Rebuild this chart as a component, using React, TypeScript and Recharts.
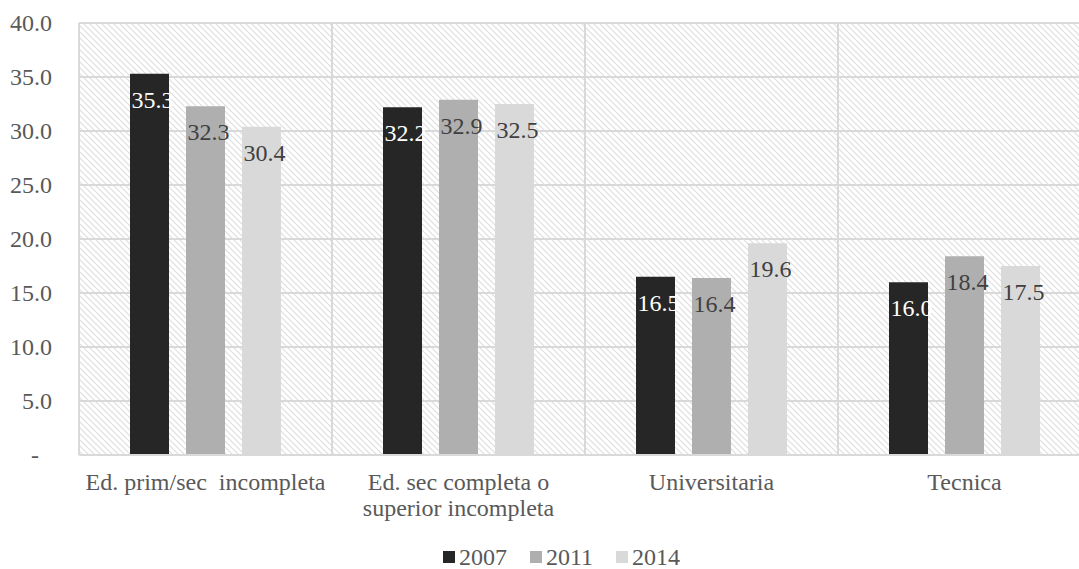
import React from 'react';
import { BarChart, Bar, XAxis, YAxis, CartesianGrid, LabelList } from 'recharts';

const categories = ['Ed. prim/sec  incompleta', 'Ed. sec completa o\nsuperior incompleta', 'Universitaria', 'Tecnica'];
const values2007 = [35.3, 32.2, 16.5, 16.0];
const values2011 = [32.3, 32.9, 16.4, 18.4];
const values2014 = [30.4, 32.5, 19.6, 17.5];
const yTicks = [0, 5, 10, 15, 20, 25, 30, 35, 40];

const series = [
  { key: 'y2007', name: '2007', color: '#262626', labelColor: '#ffffff' },
  { key: 'y2011', name: '2011', color: '#afafaf', labelColor: '#404040' },
  { key: 'y2014', name: '2014', color: '#d9d9d9', labelColor: '#404040' },
];

const data = categories.map((c, i) => ({
  name: c,
  y2007: values2007[i],
  y2011: values2011[i],
  y2014: values2014[i],
}));

const FONT = '"Liberation Serif", "Times New Roman", serif';
const textStyle = { fontFamily: FONT, fontSize: 24 };

const YTick = (props: any) => {
  const { x, y, payload } = props;
  const v = payload.value;
  if (v === 0) {
    return (
      <text x={x - 13} y={y} dy="0.35em" textAnchor="end" fill="#595959" style={textStyle}>
        -
      </text>
    );
  }
  return (
    <text x={x} y={y} dy="0.35em" textAnchor="end" fill="#595959" style={textStyle}>
      {v.toFixed(1)}
    </text>
  );
};

const XTick = (props: any) => {
  const { x, y, payload } = props;
  const lines = String(payload.value).split('\n');
  return (
    <text x={x} y={y} textAnchor="middle" fill="#595959" style={{ ...textStyle, whiteSpace: 'pre' }}>
      {lines.map((l, i) => (
        <tspan key={i} x={x} y={y + 35 + i * 26}>
          {l}
        </tspan>
      ))}
    </text>
  );
};

const makeLabel = (color: string) => (props: any) => {
  const { x, y, value } = props;
  return (
    <text x={x + 1.5} y={y + 34} fill={color} style={textStyle}>
      {Number(value).toFixed(1)}
    </text>
  );
};

const App: React.FC = () => {
  return (
    <div style={{ position: 'absolute', left: 0, top: 0, width: 1079, height: 569, overflow: 'hidden', background: '#fff' }}>
      <BarChart
        width={1100}
        height={569}
        data={data}
        margin={{ top: 23, right: 9, left: 0, bottom: 0 }}
        barSize={39}
        barGap={17}
      >
        <defs>
          <pattern id="hatch" width="6" height="6" patternUnits="userSpaceOnUse">
            <rect width="6" height="6" fill="#ffffff" />
            <path d="M0,0 L6,6 M-1,5 L1,7 M5,-1 L7,1" stroke="#dedede" strokeWidth="1.1" />
          </pattern>
        </defs>
        <CartesianGrid
          fill="url(#hatch)"
          stroke="#d9d9d9"
          strokeWidth={2}
          verticalCoordinatesGenerator={({ offset }: any) =>
            categories.map((_, i) => offset.left + (offset.width / categories.length) * i)
          }
        />
        <XAxis
          dataKey="name"
          interval={0}
          axisLine={{ stroke: '#d9d9d9', strokeWidth: 2 }}
          tickLine={false}
          tickSize={0}
          tickMargin={0}
          height={114}
          tick={<XTick />}
        />
        <YAxis
          domain={[0, 40]}
          ticks={yTicks}
          width={79}
          axisLine={false}
          tickLine={false}
          tickSize={0}
          tickMargin={27}
          tick={<YTick />}
        />
        {series.map((s) => (
          <Bar key={s.key} dataKey={s.key} name={s.name} fill={s.color} isAnimationActive={false}>
            <LabelList dataKey={s.key} content={makeLabel(s.labelColor)} />
          </Bar>
        ))}
      </BarChart>
      <div
        style={{
          position: 'absolute',
          top: 545,
          left: 443,
          height: 24,
          display: 'flex',
          alignItems: 'center',
          fontFamily: FONT,
          fontSize: 24,
          lineHeight: '24px',
          color: '#595959',
        }}
      >
        {series.map((s, i) => (
          <div key={s.key} style={{ display: 'flex', alignItems: 'center', marginLeft: i === 0 ? 0 : 23 }}>
            <div style={{ width: 12, height: 12, background: s.color, marginRight: 4 }} />
            <span>{s.name}</span>
          </div>
        ))}
      </div>
    </div>
  );
};

export default App;
